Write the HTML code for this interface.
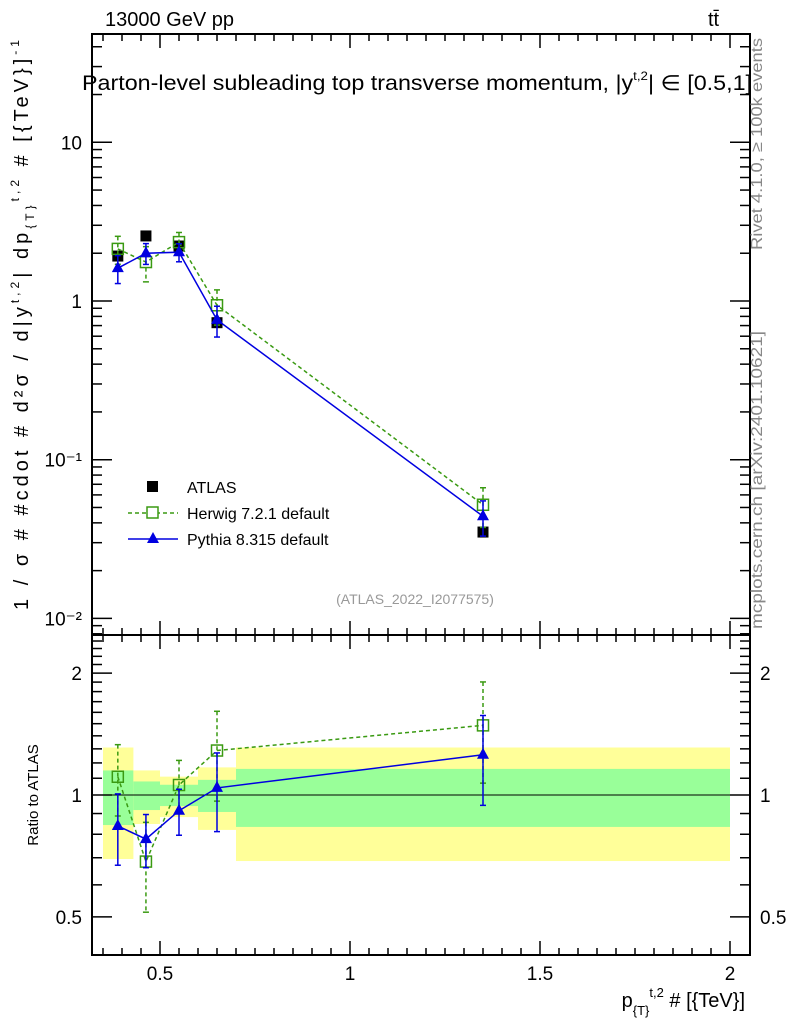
<!DOCTYPE html>
<html><head><meta charset="utf-8"><style>
body{margin:0;background:#fff;}
svg{font-family:"Liberation Sans",sans-serif;}
</style></head><body>
<svg id="chart" width="786" height="1024" xmlns="http://www.w3.org/2000/svg">
<g id="bands"></g>
<g id="axes"></g>
<g id="series"></g>
<text x="105" y="26" font-size="20">13000 GeV pp</text>
<text x="708" y="26" font-size="20">tt̄</text>
<text x="82" y="90" font-size="21" textLength="670" lengthAdjust="spacingAndGlyphs">Parton-level subleading top transverse momentum, |y<tspan font-size="12" dy="-10">t,2</tspan><tspan dy="10">| ∈ [0.5,1]</tspan></text>
<text transform="translate(28,325) rotate(-90)" text-anchor="middle" font-size="20" textLength="570" lengthAdjust="spacing">1 / σ # #cdot # d²σ / d|y<tspan font-size="12" dy="-9">t,2</tspan><tspan dy="9">| dp</tspan><tspan font-size="12" dy="6">{T}</tspan><tspan font-size="12" dy="-15">t,2</tspan><tspan dy="9"> # [{TeV}]</tspan><tspan font-size="12" dy="-9">-1</tspan></text>
<text transform="translate(38,795) rotate(-90)" text-anchor="middle" font-size="15">Ratio to ATLAS</text>
<text x="745" y="1007" text-anchor="end" font-size="20">p<tspan font-size="13" dy="8">{T}</tspan><tspan font-size="13" dy="-18">t,2</tspan><tspan dy="10"> # [{TeV}]</tspan></text>
<text transform="translate(762,144) rotate(-90)" text-anchor="middle" font-size="16" textLength="212" lengthAdjust="spacingAndGlyphs" fill="#888">Rivet 4.1.0, ≥ 100k events</text>
<text transform="translate(762,480) rotate(-90)" text-anchor="middle" font-size="16" textLength="298" lengthAdjust="spacingAndGlyphs" fill="#888">mcplots.cern.ch [arXiv:2401.10621]</text>
<text x="415" y="604" text-anchor="middle" font-size="14" fill="#999">(ATLAS_2022_I2077575)</text>
<g>
<rect x="147" y="481" width="11" height="11" fill="#000"/>
<text x="187" y="493" font-size="16">ATLAS</text>
<line x1="128" y1="513" x2="178" y2="513" stroke="#3a9a12" stroke-width="1.5" stroke-dasharray="4,3"/>
<rect x="147" y="507" width="11" height="11" fill="#fff" stroke="#3a9a12" stroke-width="1.5"/>
<text x="187" y="519" font-size="16">Herwig 7.2.1 default</text>
<line x1="128" y1="539" x2="178" y2="539" stroke="#0000e0" stroke-width="1.5"/>
<polygon points="153,532 159,543 147,543" fill="#0000e0"/>
<text x="187" y="545" font-size="16">Pythia 8.315 default</text>
</g>
</svg>
<script>
const xCenters=[0.389,0.463,0.55,0.65,1.35];
const binEdges=[0.35,0.43,0.5,0.6,0.7,2.0];
const atlasVals=[1.92,2.57,2.22,0.73,0.035];
const herwigVals=[2.13,1.76,2.35,0.94,0.052];
const pythiaVals=[1.61,2.0,2.03,0.76,0.044];
const herwigErr=[0.2,0.25,0.15,0.25,0.28];
const pythiaErr=[0.2,0.15,0.13,0.22,0.25];
const yellowHi=[1.31,1.15,1.11,1.17,1.31];
const yellowLo=[0.695,0.848,0.882,0.82,0.687];
const greenHi=[1.15,1.08,1.06,1.09,1.16];
const greenLo=[0.843,0.918,0.939,0.908,0.834];
const xTicks=[0.5,1,1.5,2];
const xTickLabels=["0.5","1","1.5","2"];
const yTicks=[10,1,0.1,0.01];
const yTickLabels=["10","1","10⁻¹","10⁻²"];
const rTicks=[0.5,1,2];
const rTickLabels=["0.5","1","2"];

const L=92,R=750,T=34,MB=635,RB=955;
const X=v=>160+(v-0.5)*380;
const Y=v=>301-Math.log10(v)*158.7;
const RY=v=>795-Math.log10(v)*405;
const NS="http://www.w3.org/2000/svg";
function mk(t,a,p){const e=document.createElementNS(NS,t);for(const k in a)e.setAttribute(k,a[k]);p.appendChild(e);return e;}
const bands=document.getElementById('bands'),axes=document.getElementById('axes'),ser=document.getElementById('series');

for(let i=0;i<5;i++){
 const x0=X(binEdges[i]),x1=X(binEdges[i+1]);
 const y=mk('rect',{x:x0,y:RY(yellowHi[i]),width:x1-x0,height:RY(yellowLo[i])-RY(yellowHi[i]),fill:'#ffff99'},bands);
 
 
 const g=mk('rect',{x:x0,y:RY(greenHi[i]),width:x1-x0,height:RY(greenLo[i])-RY(greenHi[i]),fill:'#99ff99'},bands);
 
 
}
mk('line',{x1:L,x2:R,y1:RY(1),y2:RY(1),stroke:'#000','stroke-width':1},axes);
mk('rect',{x:L,y:T,width:R-L,height:MB-T,fill:'none',stroke:'#000','stroke-width':2},axes);
mk('rect',{x:L,y:MB,width:R-L,height:RB-MB,fill:'none',stroke:'#000','stroke-width':2},axes);
for(let v=0.35;v<2.04;v+=0.05){
 const x=X(v),major=Math.abs(v*2-Math.round(v*2))<0.01, len=major?14:7;
 for(const [a,b] of [[T,1],[MB,-1],[MB,1],[RB,-1]]){mk('line',{x1:x,x2:x,y1:a,y2:a+b*len,stroke:'#000','stroke-width':1.5},axes);}
}
xTicks.forEach((v,i)=>{const t=mk('text',{x:X(v),y:980,'text-anchor':'middle','font-size':19},axes);t.textContent=xTickLabels[i];
 
 });
for(let d=-3;d<=1;d++)for(let m=1;m<10;m++){const v=m*Math.pow(10,d),y=Y(v);if(y<T||y>MB)continue;const len=m==1?20:10;
 mk('line',{x1:L,x2:L+len,y1:y,y2:y,stroke:'#000','stroke-width':1.5},axes);mk('line',{x1:R,x2:R-len,y1:y,y2:y,stroke:'#000','stroke-width':1.5},axes);}
yTicks.forEach((v,i)=>{const t=mk('text',{x:82,y:Y(v)+7,'text-anchor':'end','font-size':19},axes);t.textContent=yTickLabels[i];
 
 });
for(let v=0.4;v<=2.5;v+=0.1){const y=RY(v);if(y<MB||y>RB)continue;const maj=[0.5,1,2].some(q=>Math.abs(q-v)<0.01),len=maj?20:10;
 mk('line',{x1:L,x2:L+len,y1:y,y2:y,stroke:'#000','stroke-width':1.5},axes);mk('line',{x1:R,x2:R-len,y1:y,y2:y,stroke:'#000','stroke-width':1.5},axes);}
rTicks.forEach((v,i)=>{const t=mk('text',{x:82,y:RY(v)+7,'text-anchor':'end','font-size':19},axes);t.textContent=rTickLabels[i];
 
 
 const t2=mk('text',{x:760,y:RY(v)+7,'font-size':19},axes);t2.textContent=rTickLabels[i];
 
 });

function drawSeries(vals,errs,fy,color,dash,shape,name){
 const pts=xCenters.map((x,i)=>X(x)+','+fy(vals[i])).join(' ');
 const pl=mk('polyline',{points:pts,fill:'none',stroke:color,'stroke-width':1.5,'stroke-dasharray':dash},ser);
 
 
 xCenters.forEach((xv,i)=>{const x=X(xv),y=fy(vals[i]);
  if(errs){const y1=fy(vals[i]*(1+errs[i])),y2=fy(vals[i]*(1-errs[i]));
   mk('line',{x1:x,x2:x,y1:y1,y2:y2,stroke:color,'stroke-width':1.5,'stroke-dasharray':dash},ser);
   mk('line',{x1:x-3,x2:x+3,y1:y1,y2:y1,stroke:color,'stroke-width':1.5},ser);
   mk('line',{x1:x-3,x2:x+3,y1:y2,y2:y2,stroke:color,'stroke-width':1.5},ser);}
  let m;
  if(shape=='sq')m=mk('rect',{x:x-5.5,y:y-5.5,width:11,height:11,fill:'none',stroke:color,'stroke-width':1.5},ser);
  else m=mk('polygon',{points:`${x},${y-7} ${x+6},${y+4} ${x-6},${y+4}`,fill:color},ser);
  
  });
}
xCenters.forEach((xv,i)=>{const m=mk('rect',{x:X(xv)-5.5,y:Y(atlasVals[i])-5.5,width:11,height:11,fill:'#000'},ser);
 
 });
drawSeries(herwigVals,herwigErr,Y,'#3a9a12','4,3','sq','herwig');
drawSeries(pythiaVals,pythiaErr,Y,'#0000e0','none','tri','pythia');
const hR=herwigVals.map((v,i)=>v/atlasVals[i]), pR=pythiaVals.map((v,i)=>v/atlasVals[i]);
drawSeries(hR,herwigErr,RY,'#3a9a12','4,3','sq','herwig-ratio');
drawSeries(pR,pythiaErr,RY,'#0000e0','none','tri','pythia-ratio');
</script>
</body></html>
